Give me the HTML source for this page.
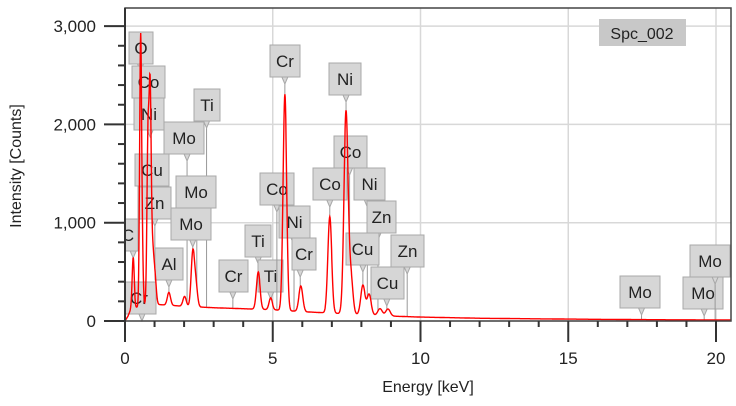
<!DOCTYPE html>
<html><head><meta charset="utf-8"><style>
html,body{margin:0;padding:0;background:#fff;}
svg{display:block;font-family:"Liberation Sans",sans-serif;}
</style></head><body>
<svg id="chart" width="736" height="406" viewBox="0 0 736 406">
<defs><clipPath id="plotclip"><rect x="125" y="8" width="606" height="314"/></clipPath></defs>
<g id="grid"></g>
<g id="labels" clip-path="url(#plotclip)"></g>
<g id="series" clip-path="url(#plotclip)"></g>
<g id="axes"></g>
<g>
<rect x="599" y="19" width="87" height="27" fill="#c8c8c8"/>
<text x="642" y="39" font-size="16" text-anchor="middle" fill="#222">Spc_002</text>
</g>
<text x="428" y="392" font-size="16" text-anchor="middle" fill="#222">Energy [keV]</text>
<text transform="translate(21,166) rotate(-90)" font-size="16" text-anchor="middle" fill="#222">Intensity [Counts]</text>
</svg>
<script>
const xTicks=[0,5,10,15,20];
const yTicks=[0,1000,2000,3000];
const yTickLabels=["0","1,000","2,000","3,000"];
const peakEnergies=[0.277,0.525,0.573,0.776,0.851,0.93,1.01,1.486,2.016,2.293,2.395,4.51,4.93,5.41,5.95,6.93,7.48,7.65,8.05,8.26,8.63,8.9];
const peakHeights=[520,2480,700,1650,2100,500,300,130,100,540,230,380,120,2200,260,980,2060,360,300,210,70,70];
const peakWidths=[0.035,0.032,0.035,0.035,0.035,0.04,0.045,0.055,0.055,0.055,0.055,0.06,0.055,0.06,0.065,0.065,0.07,0.065,0.07,0.07,0.075,0.075];
const bgEnergies=[0,0.1,0.2,0.5,1,1.5,2,3,4,5,6,7,8,9,10,12,14,16,18,20,20.5];
const bgCounts=[0,50,120,150,170,160,150,135,125,115,95,80,65,50,40,28,22,17,13,11,10];
const labelTexts=["O","Co","Ni","Cu","Zn","C","Cr","Al","Mo","Ti","Mo","Mo","Cr","Ti","Ti","Co","Ni","Cr","Cr","Ni","Co","Co","Ni","Zn","Cu","Zn","Cu","Mo","Mo","Mo"];
const labelEnergies=[0.525,0.776,0.851,0.93,1.01,0.277,0.573,1.486,2.1,2.76,2.43,2.293,3.65,4.51,4.93,5.14,5.72,5.93,5.41,7.48,7.6,6.93,8.2,8.56,8.05,9.55,8.86,17.48,19.6,19.97];
const boxX=[129,132,134,135,138,118,122,155,164,194,176,171,219,245,258,260,279,292,270,329,334,313,354,367,346,391,371,620,683,690];
const boxY=[32,66,98,154,187,219,282,248,122,89,176,208,260,225,260,173,206,238,45,63,136,168,168,201,233,235,267,276,277,245];
const boxW=[24,33,30,34,33,20,34,28,40,26,40,40,29,26,25,34,31,24,30,32,33,34,31,29,33,33,33,40,40,40];

const NS="http://www.w3.org/2000/svg";
const X0=125,XPX=29.55,Y0=321,YPX=0.0983;
function xs(e){return X0+e*XPX;}
function ys(c){return Y0-c*YPX;}
function mk(tag,attrs,parent){const el=document.createElementNS(NS,tag);for(const k in attrs)el.setAttribute(k,attrs[k]);parent.appendChild(el);return el;}
function bg(e){for(let i=0;i<bgEnergies.length-1;i++){if(e<=bgEnergies[i+1]){const t=(e-bgEnergies[i])/(bgEnergies[i+1]-bgEnergies[i]);return bgCounts[i]+t*(bgCounts[i+1]-bgCounts[i]);}}return bgCounts[bgCounts.length-1];}
function spec(e){let v=bg(e);for(let i=0;i<peakEnergies.length;i++){const d=(e-peakEnergies[i])/peakWidths[i];v+=peakHeights[i]*Math.exp(-0.5*d*d);}return v;}

const grid=document.getElementById('grid');
xTicks.forEach(t=>{const l=mk('line',{x1:xs(t),x2:xs(t),y1:8,y2:321,stroke:'#d8d8d8','stroke-width':1.5},grid);

});
yTicks.forEach(t=>{const l=mk('line',{x1:125,x2:731,y1:ys(t),y2:ys(t),stroke:'#d8d8d8','stroke-width':1.5},grid);

});

const labels=document.getElementById('labels');
labelTexts.forEach((txt,i)=>{const g=mk('g',{},labels);


const px=xs(labelEnergies[i]);const by=boxY[i]+32;const py=ys(spec(labelEnergies[i]));
mk('line',{x1:px,x2:px,y1:by,y2:Math.max(by,py),stroke:'#999','stroke-width':1},g);
mk('rect',{x:boxX[i],y:boxY[i],width:boxW[i],height:32,fill:'#d6d6d6',stroke:'#a8a8a8','stroke-width':1},g);
mk('path',{d:`M${px-3},${by} L${px},${by+7} L${px+3},${by} Z`,fill:'#d6d6d6',stroke:'#a8a8a8'},g);
const t=mk('text',{x:boxX[i]+boxW[i]/2,y:boxY[i]+22,'font-size':17,'text-anchor':'middle',fill:'#222'},g);t.textContent=txt;});

const series=document.getElementById('series');
let d='';for(let e=0;e<=20.5;e+=0.01){d+=(e===0?'M':'L')+xs(e).toFixed(1)+','+ys(spec(e)).toFixed(1);}
const path=mk('path',{d:d,fill:'none',stroke:'#ff0000','stroke-width':1.4},series);



const axes=document.getElementById('axes');
mk('rect',{x:125,y:8,width:606,height:313,fill:'none',stroke:'#444','stroke-width':1.5},axes);
mk('line',{x1:125,x2:125,y1:8,y2:330,stroke:'#333','stroke-width':2},axes);
for(let v=0;v<=3000;v+=200){const maj=v%1000===0;mk('line',{x1:maj?104:118,x2:125,y1:ys(v),y2:ys(v),stroke:'#333','stroke-width':2},axes);}
for(let e=0;e<=20;e+=1){const maj=e%5===0;mk('line',{x1:xs(e),x2:xs(e),y1:321,y2:maj?342:327,stroke:'#333','stroke-width':2},axes);}
yTicks.forEach((t,i)=>{const el=mk('text',{x:96,y:ys(t)+6,'font-size':17,'text-anchor':'end',fill:'#222'},axes);el.textContent=yTickLabels[i];

});
xTicks.forEach(t=>{const el=mk('text',{x:xs(t),y:364,'font-size':17,'text-anchor':'middle',fill:'#222'},axes);el.textContent=String(t);

});
</script>
</body></html>
